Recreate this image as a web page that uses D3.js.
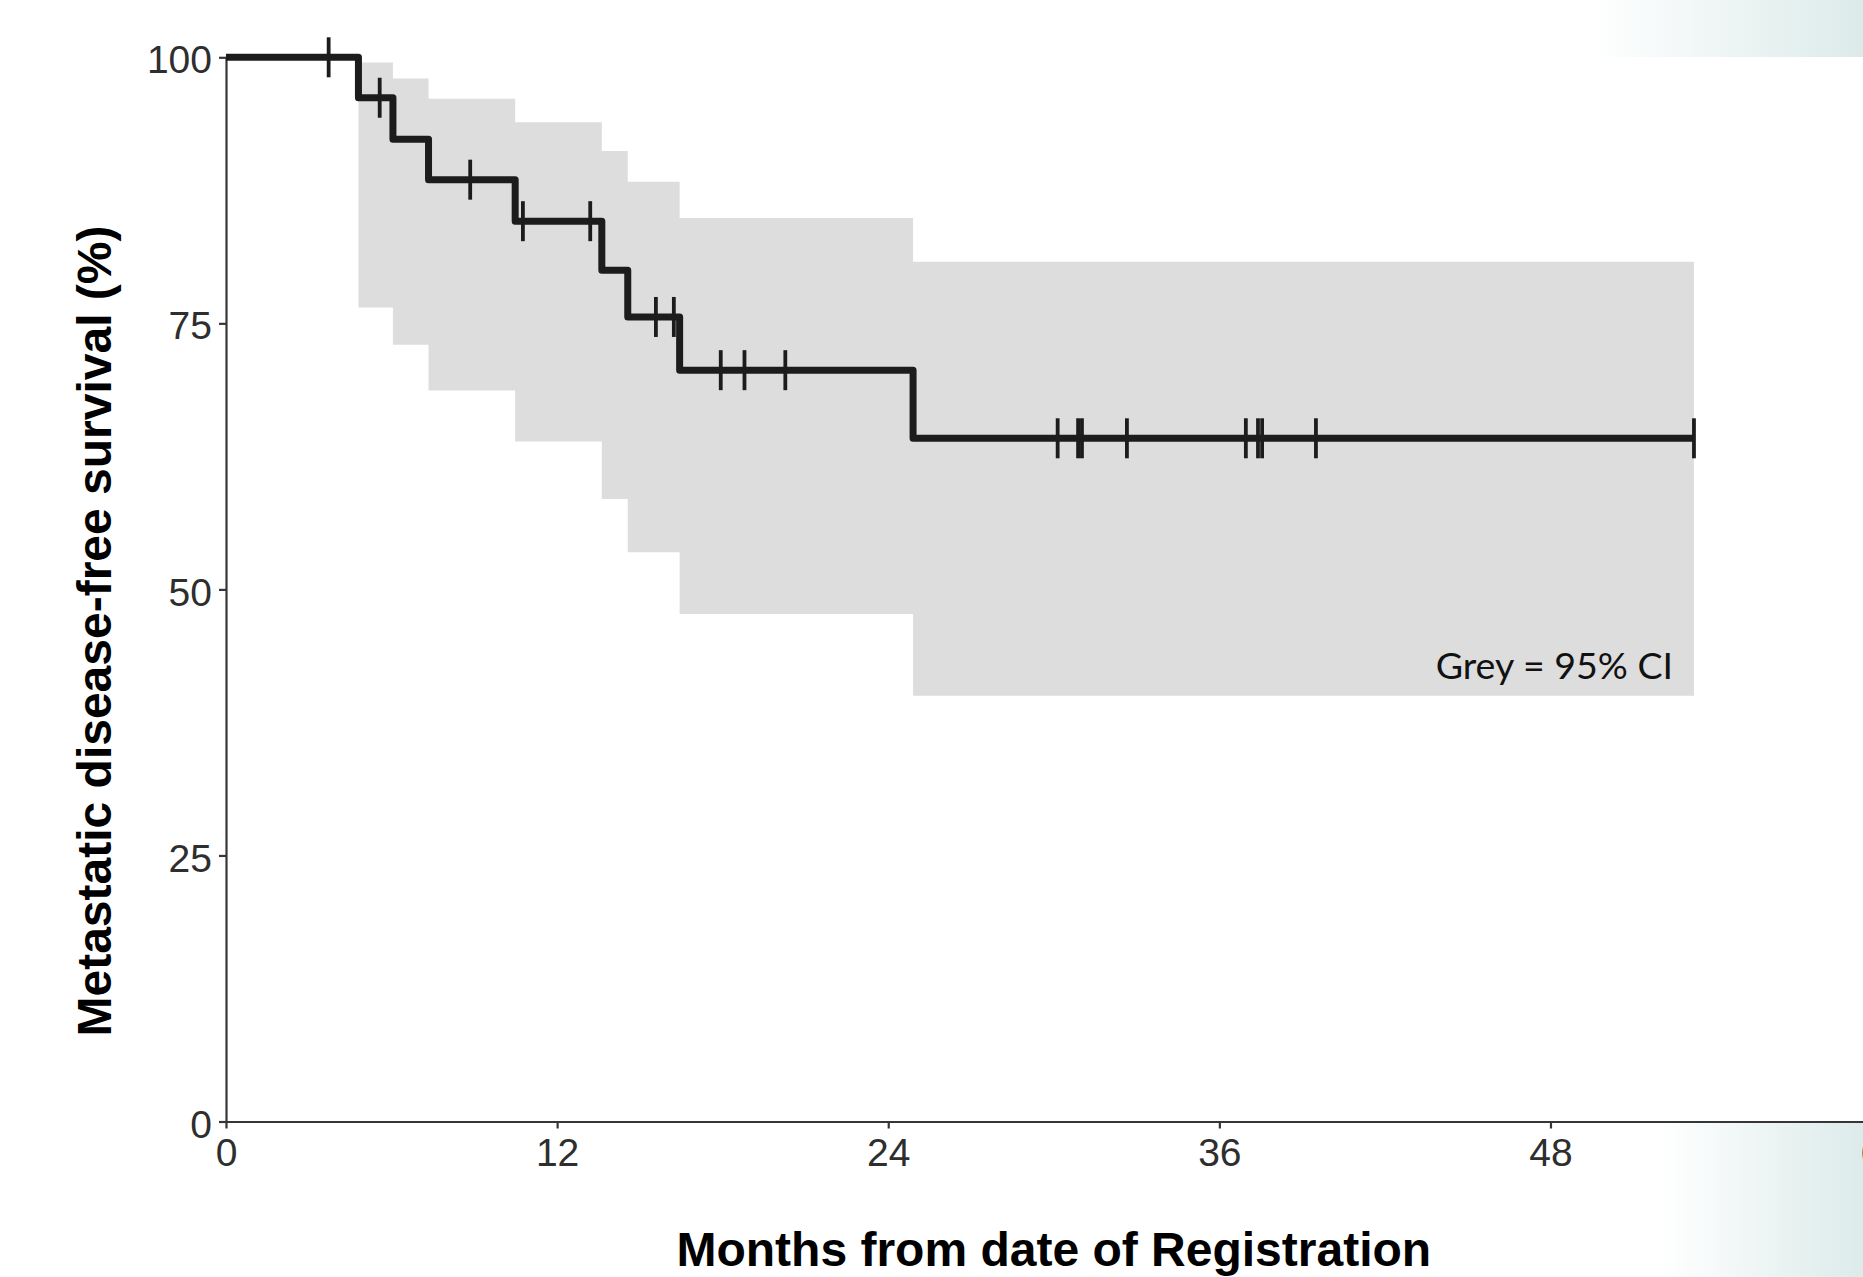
<!DOCTYPE html>
<html>
<head>
<meta charset="utf-8">
<script src="https://cdn.jsdelivr.net/npm/d3@7"></script>
<style>
  body { margin: 0; background: #fff; }
  svg { display: block; }
</style>
</head>
<body>
<div id="chart"></div>
<script>
let w = 1863;
let h = 1277;

// KM curve: event times (months) and survival (%) after each drop
let eventTimes = [4.8, 6.05, 7.34, 10.48, 13.62, 14.56, 16.44, 24.9];
let survival   = [96.2, 92.3, 88.5, 84.6, 80.0, 75.6, 70.6, 64.2];
// 95% CI band for each step
let ciUpper = [99.5, 98.0, 96.1, 93.9, 91.2, 88.3, 84.9, 80.8];
let ciLower = [76.5, 73.0, 68.7, 63.9, 58.5, 53.5, 47.7, 40.0];
// censored observations (months)
let censorTimes = [3.72, 5.57, 8.85, 10.76, 13.2, 15.58, 16.23, 17.93, 18.79, 20.27,
                   30.14, 30.88, 31.02, 32.65, 36.96, 37.4, 37.55, 39.5, 53.2];
let lastTime = 53.2;

let xTicks = [0, 12, 24, 36, 48, 60];
let yTicks = [0, 25, 50, 75, 100];

let viz = d3.select("#chart")
  .append("svg")
  .attr("width", w)
  .attr("height", h);

// slide background bits (light teal fades at right)
let defs = viz.append("defs");
let grad = defs.append("linearGradient").attr("id", "fade").attr("x1", "0").attr("x2", "1");
grad.append("stop").attr("offset", "0").attr("stop-color", "#ffffff");
grad.append("stop").attr("offset", "1").attr("stop-color", "#dcebea");
viz.append("rect").attr("x", 1590).attr("y", 0).attr("width", w - 1590).attr("height", 57)
  .attr("fill", "url(#fade)");
viz.append("rect").attr("x", 1660).attr("y", 1123).attr("width", w - 1660).attr("height", h - 1123)
  .attr("fill", "url(#fade)");

let xScale = d3.scaleLinear().domain([0, 60]).range([226, 1881.6]);
let yScale = d3.scaleLinear().domain([0, 100]).range([1121.5, 57.3]);

// build step data
let curve = [{t: 0, s: 100}];
eventTimes.forEach((t, i) => curve.push({t: t, s: survival[i]}));
curve.push({t: lastTime, s: survival[survival.length - 1]});

let band = eventTimes.map((t, i) => ({t: t, lo: ciLower[i], hi: ciUpper[i]}));
band.push({t: lastTime, lo: ciLower[ciLower.length - 1], hi: ciUpper[ciUpper.length - 1]});

// value at time t for censor ticks
function survAt(t) {
  let s = 100;
  eventTimes.forEach((et, i) => { if (et <= t) s = survival[i]; });
  return s;
}

// CI band
let area = d3.area()
  .x(d => xScale(d.t))
  .y0(d => yScale(d.lo))
  .y1(d => yScale(d.hi))
  .curve(d3.curveStepAfter);

viz.append("path")
  .datum(band)
  .attr("d", area)
  .attr("fill", "#dddddd");

// axes
let xAxis = d3.axisBottom(xScale).tickValues(xTicks).tickSize(7).tickSizeOuter(0).tickPadding(10);
let yAxis = d3.axisLeft(yScale).tickValues(yTicks).tickSize(7).tickSizeOuter(0).tickPadding(7);

let xAxisGroup = viz.append("g")
  .attr("class", "xaxisgroup")
  .attr("transform", "translate(0," + yScale(0) + ")")
  .call(xAxis);

let yAxisGroup = viz.append("g")
  .attr("class", "yaxisgroup")
  .attr("transform", "translate(" + xScale(0) + ",0)")
  .call(yAxis);

[xAxisGroup, yAxisGroup].forEach(g => {
  g.selectAll("path, line").attr("stroke", "#363636").attr("stroke-width", 2.2);
  g.selectAll("text")
    .attr("fill", "#2e2e2e")
    .style("font-family", "'Liberation Sans', Arial, sans-serif")
    .style("font-size", "39px");
});
yAxisGroup.selectAll("text").attr("dy", "0.4em");

// KM step line
let line = d3.line()
  .x(d => xScale(d.t))
  .y(d => yScale(d.s))
  .curve(d3.curveStepAfter);

viz.append("path")
  .datum(curve)
  .attr("d", line)
  .attr("fill", "none")
  .attr("stroke", "#1c1c1c")
  .attr("stroke-width", 7)
  .attr("stroke-linejoin", "round");

// censor marks
viz.selectAll(".censor").data(censorTimes).enter()
  .append("line")
  .attr("class", "censor")
  .attr("x1", d => xScale(d))
  .attr("x2", d => xScale(d))
  .attr("y1", d => yScale(survAt(d)) - 20)
  .attr("y2", d => yScale(survAt(d)) + 20)
  .attr("stroke", "#1c1c1c")
  .attr("stroke-width", 3.8);

// annotation
viz.append("text")
  .attr("x", 1673)
  .attr("y", 679)
  .attr("text-anchor", "end")
  .style("font-family", "Lato, 'Open Sans', sans-serif")
  .style("font-size", "37.5px")
  .attr("fill", "#111")
  .text("Grey = 95% CI");

// axis titles
viz.append("text")
  .attr("x", (xScale(0) + xScale(60)) / 2)
  .attr("y", 1266)
  .attr("text-anchor", "middle")
  .style("font-family", "'Liberation Sans', Arial, sans-serif")
  .style("font-weight", "bold")
  .style("font-size", "48px")
  .attr("fill", "#000")
  .text("Months from date of Registration");

viz.append("text")
  .attr("transform", "translate(111,631) rotate(-90)")
  .attr("text-anchor", "middle")
  .style("font-family", "'Liberation Sans', Arial, sans-serif")
  .style("font-weight", "bold")
  .style("font-size", "48px")
  .attr("fill", "#000")
  .text("Metastatic disease-free survival (%)");
</script>
</body>
</html>
